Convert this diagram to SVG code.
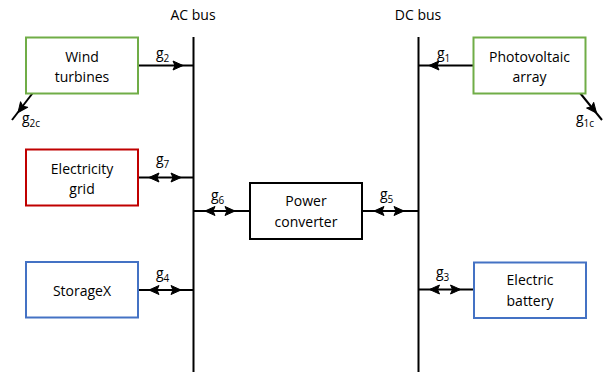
<svg xmlns="http://www.w3.org/2000/svg" xmlns:xlink="http://www.w3.org/1999/xlink" width="606" height="372" viewBox="0 0 606 372">
<style>
text{font-family:"Open Sans","Liberation Sans",sans-serif;font-size:14px;fill:#000;}
.c{text-anchor:middle;}
.sub{font-size:10px;}
.box{fill:#fff;stroke-width:2;}
.ln{stroke:#000;stroke-width:2;fill:none;}
.ah{fill:#000;stroke:#000;stroke-width:1;stroke-linejoin:round;}
</style>
<defs>
<path id="ah" d="M0,0 L-10,-4.5 L-8,0 L-10,4.5 Z"/>
</defs>
<rect width="606" height="372" fill="#fff"/>
<g id="connectors">
<line class="ln" x1="193.5" y1="37" x2="193.5" y2="372"/>
<line class="ln" x1="418.5" y1="37" x2="418.5" y2="372"/>
<line class="ln" x1="138" y1="65.5" x2="193" y2="65.5"/>
<use href="#ah" class="ah" transform="translate(183,65.5)"/>
<line class="ln" x1="473" y1="65.5" x2="419" y2="65.5"/>
<use href="#ah" class="ah" transform="translate(429,65.5) rotate(180)"/>
<line class="ln" x1="45" y1="77" x2="12" y2="120"/>
<use href="#ah" class="ah" transform="translate(18,112.5) rotate(127.5)"/>
<line class="ln" x1="567" y1="77" x2="602" y2="120"/>
<use href="#ah" class="ah" transform="translate(596.5,113) rotate(50.9)"/>
<line class="ln" x1="138" y1="177.5" x2="193" y2="177.5"/>
<use href="#ah" class="ah" transform="translate(149,177.5) rotate(180)"/>
<use href="#ah" class="ah" transform="translate(181,177.5)"/>
<line class="ln" x1="193" y1="211" x2="250" y2="211"/>
<use href="#ah" class="ah" transform="translate(205,211) rotate(180)"/>
<use href="#ah" class="ah" transform="translate(235,211)"/>
<line class="ln" x1="138" y1="290" x2="193" y2="290"/>
<use href="#ah" class="ah" transform="translate(149,290) rotate(180)"/>
<use href="#ah" class="ah" transform="translate(181,290)"/>
<line class="ln" x1="362" y1="211" x2="418" y2="211"/>
<use href="#ah" class="ah" transform="translate(374,211) rotate(180)"/>
<use href="#ah" class="ah" transform="translate(404,211)"/>
<line class="ln" x1="418" y1="289.5" x2="474" y2="289.5"/>
<use href="#ah" class="ah" transform="translate(429.5,289.5) rotate(180)"/>
<use href="#ah" class="ah" transform="translate(460.5,289.5)"/>
<text x="156" y="58">g<tspan class="sub" dy="4">2</tspan></text>
<text x="437" y="58">g<tspan class="sub" dy="4">1</tspan></text>
<text x="22" y="123">g<tspan class="sub" dy="4">2c</tspan></text>
<text x="576" y="123">g<tspan class="sub" dy="4">1c</tspan></text>
<text x="156" y="164">g<tspan class="sub" dy="4">7</tspan></text>
<text x="211" y="200">g<tspan class="sub" dy="4">6</tspan></text>
<text x="156" y="278">g<tspan class="sub" dy="4">4</tspan></text>
<text x="380" y="199">g<tspan class="sub" dy="4">5</tspan></text>
<text x="436" y="277">g<tspan class="sub" dy="4">3</tspan></text>
</g>
<g id="ac-bus-label"><text class="c" x="193" y="20">AC bus</text></g>
<g id="dc-bus-label"><text class="c" x="418" y="20">DC bus</text></g>
<g id="wind-turbines">
<rect class="box" x="26" y="37.5" width="112" height="56" stroke="#70AD47"/>
<text class="c" x="82" y="62">Wind</text>
<text class="c" x="82" y="82">turbines</text>
</g>
<g id="photovoltaic-array">
<rect class="box" x="473.5" y="37.5" width="112" height="56" stroke="#70AD47"/>
<text class="c" x="529.5" y="62">Photovoltaic</text>
<text class="c" x="529.5" y="82">array</text>
</g>
<g id="electricity-grid">
<rect class="box" x="26" y="149.5" width="112" height="56" stroke="#C00000"/>
<text class="c" x="82" y="173.5">Electricity</text>
<text class="c" x="82" y="194">grid</text>
</g>
<g id="power-converter">
<rect class="box" x="250" y="183" width="112" height="56" stroke="#000"/>
<text class="c" x="306" y="206">Power</text>
<text class="c" x="306" y="227">converter</text>
</g>
<g id="storagex">
<rect class="box" x="26" y="262" width="112" height="55.5" stroke="#4472C4"/>
<text class="c" x="82" y="296">StorageX</text>
</g>
<g id="electric-battery">
<rect class="box" x="474" y="262.5" width="112" height="55.5" stroke="#4472C4"/>
<text class="c" x="530" y="284.5">Electric</text>
<text class="c" x="530" y="306">battery</text>
</g>
</svg>
